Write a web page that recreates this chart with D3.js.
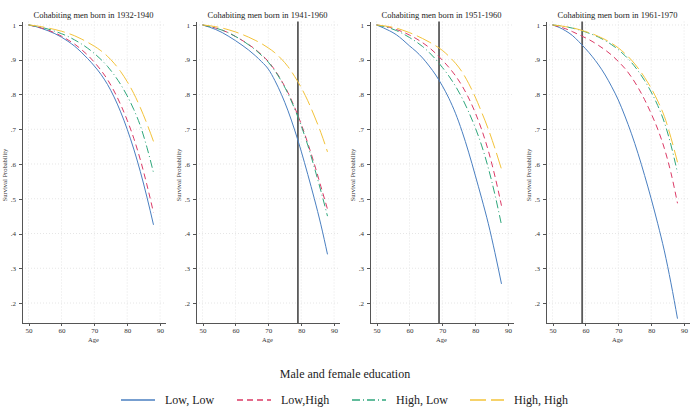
<!DOCTYPE html>
<html>
<head>
<meta charset="utf-8">
<title>Survival probability by education</title>
<script src="https://d3js.org/d3.v7.min.js"></script>
<style>
    body { margin: 0; background: #fff; }
    svg { font-family: "Liberation Serif", "Times New Roman", serif; }
    .axis path, .axis line { stroke: #555; shape-rendering: crispEdges; }
    .axis text { font-size: 7px; fill: #333; font-family: "Liberation Serif", serif; }
</style>
</head>
<body>
<script>

// ages at which the curves were read (every 2 years)
var ages = [50, 52, 54, 56, 58, 60, 62, 64, 66, 68, 70, 72, 74, 76, 78, 80, 82, 84, 86, 88];

var panelTitles = ["Cohabiting men born in 1932-1940", "Cohabiting men born in 1941-1960",
                   "Cohabiting men born in 1951-1960", "Cohabiting men born in 1961-1970"];
var refAges = [null, 79, 69, 59];   // vertical marker per panel

var seriesNames = ["Low, Low", "Low,High", "High, Low", "High, High"];

// panel 1: 1932-1940
var p1LowLow   = [1, .996, .99, .983, .975, .965, .953, .939, .922, .903, .882, .858, .829, .793, .75, .70, .643, .578, .505, .425];
var p1LowHigh  = [1, .996, .991, .985, .977, .968, .957, .945, .93, .913, .893, .87, .843, .81, .771, .726, .674, .612, .54, .46];
var p1HighLow  = [1, .997, .993, .988, .982, .975, .967, .957, .946, .933, .918, .901, .881, .857, .829, .796, .757, .71, .648, .575];
var p1HighHigh = [1, .998, .995, .991, .987, .982, .976, .969, .96, .95, .939, .926, .91, .89, .866, .837, .803, .762, .716, .665];

// panel 2: 1941-1960
var p2LowLow   = [1, .994, .987, .978, .967, .955, .942, .928, .912, .894, .873, .84, .80, .753, .698, .637, .57, .50, .425, .34];
var p2LowHigh  = [1, .996, .991, .985, .977, .967, .956, .944, .93, .914, .895, .87, .84, .805, .763, .715, .66, .60, .535, .47];
var p2HighLow  = [1, .996, .991, .985, .977, .967, .956, .943, .929, .912, .893, .868, .838, .802, .759, .71, .654, .59, .522, .45];
var p2HighHigh = [1, .998, .995, .991, .986, .98, .973, .965, .956, .946, .934, .92, .902, .88, .852, .82, .782, .738, .69, .635];

// panel 3: 1951-1960
var p3LowLow   = [1, .992, .983, .972, .957, .94, .924, .905, .882, .856, .825, .789, .746, .694, .634, .568, .50, .428, .345, .255];
var p3LowHigh  = [1, .997, .993, .987, .98, .971, .961, .949, .935, .918, .899, .878, .854, .825, .79, .748, .698, .638, .565, .48];
var p3HighLow  = [1, .996, .991, .984, .975, .964, .952, .938, .921, .901, .878, .853, .824, .79, .75, .705, .652, .588, .512, .425];
var p3HighHigh = [1, .998, .995, .991, .985, .978, .97, .961, .951, .94, .927, .91, .89, .865, .832, .793, .748, .70, .645, .585];

// panel 4: 1961-1970
var p4LowLow   = [1, .993, .983, .97, .952, .932, .91, .885, .856, .822, .784, .738, .687, .63, .567, .50, .428, .35, .258, .155];
var p4LowHigh  = [1, .995, .989, .981, .972, .963, .953, .941, .928, .913, .895, .875, .85, .82, .785, .745, .70, .645, .575, .487];
var p4HighLow  = [1, .998, .995, .991, .986, .98, .973, .965, .955, .943, .929, .912, .892, .868, .84, .807, .768, .72, .655, .575];
var p4HighHigh = [1, .998, .995, .992, .987, .981, .975, .967, .958, .947, .934, .918, .899, .876, .849, .818, .781, .737, .676, .605];

var panelData = [
    [p1LowLow, p1LowHigh, p1HighLow, p1HighHigh],
    [p2LowLow, p2LowHigh, p2HighLow, p2HighHigh],
    [p3LowLow, p3LowHigh, p3HighLow, p3HighHigh],
    [p4LowLow, p4LowHigh, p4HighLow, p4HighHigh]
];

var yTicks = [.2, .3, .4, .5, .6, .7, .8, .9, 1];
var xTicks = [50, 60, 70, 80, 90];

var colors = ["#4a7fc1", "#dc3a66", "#2fa77c", "#f3c33a"];
var dashes = [null, "6,4", "8,3,1,3", "16,5"];

var width = 691, height = 411;
var panelLeft = [22, 196, 370, 546];
var plotW = 143;
var plotTop = 21.5, plotBottom = 323;

var svg = d3.select("body").append("svg")
    .attr("width", width)
    .attr("height", height);

var fmt = function (d) { return d === 1 ? "1" : d3.format(".1f")(d).replace(/^0/, ""); };

panelData.forEach(function (series, p) {
    var x = d3.scaleLinear().domain([48, 91.5]).range([0, plotW]);
    var y = d3.scaleLinear().domain([0.1425, 1.01]).range([plotBottom, plotTop]);

    var g = svg.append("g").attr("transform", "translate(" + panelLeft[p] + ",0)");

    // dotted grid
    g.selectAll(".hgrid").data(yTicks).enter().append("line")
        .attr("x1", 0).attr("x2", plotW)
        .attr("y1", function (d) { return y(d); })
        .attr("y2", function (d) { return y(d); })
        .style("stroke", "#e6e6e6").style("stroke-dasharray", "1,2");
    g.selectAll(".vgrid").data(xTicks).enter().append("line")
        .attr("y1", plotTop).attr("y2", plotBottom)
        .attr("x1", function (d) { return x(d); })
        .attr("x2", function (d) { return x(d); })
        .style("stroke", "#e6e6e6").style("stroke-dasharray", "1,2");

    // axes
    g.append("g").attr("class", "axis")
        .attr("transform", "translate(0," + plotBottom + ")")
        .call(d3.axisBottom(x).tickValues(xTicks).tickSize(3).tickPadding(2).tickSizeOuter(0));
    g.append("g").attr("class", "axis")
        .call(d3.axisLeft(y).tickValues(yTicks).tickFormat(fmt).tickSize(3).tickPadding(3).tickSizeOuter(0));

    // reference line
    if (refAges[p] !== null) {
        g.append("line")
            .attr("x1", x(refAges[p])).attr("x2", x(refAges[p]))
            .attr("y1", plotTop).attr("y2", plotBottom)
            .style("stroke", "#5a5a5a").style("stroke-width", 1.8);
    }

    var line = d3.line()
        .x(function (d, i) { return x(ages[i]); })
        .y(function (d) { return y(d); })
        .curve(d3.curveMonotoneX);

    series.forEach(function (vals, s) {
        g.append("path")
            .attr("d", line(vals))
            .style("fill", "none")
            .style("stroke", colors[s])
            .style("stroke-width", 1)
            .style("stroke-dasharray", dashes[s]);
    });

    // titles
    g.append("text")
        .attr("x", plotW / 2).attr("y", 18)
        .attr("text-anchor", "middle")
        .style("font-size", "8.5px").style("fill", "#222")
        .text(panelTitles[p]);
    g.append("text")
        .attr("x", plotW / 2).attr("y", 342)
        .attr("text-anchor", "middle")
        .style("font-size", "6.5px").style("fill", "#333")
        .text("Age");
    g.append("text")
        .attr("transform", "translate(-15," + 175 + ")rotate(-90)")
        .attr("text-anchor", "middle")
        .style("font-size", "6.5px").style("fill", "#333")
        .text("Survival Probability");
});

// legend
svg.append("text")
    .attr("x", 345).attr("y", 378)
    .attr("text-anchor", "middle")
    .style("font-size", "12px").style("fill", "#222")
    .text("Male and female education");

var legendX = [121, 237, 352, 470];
seriesNames.forEach(function (name, s) {
    svg.append("line")
        .attr("x1", legendX[s]).attr("x2", legendX[s] + 34)
        .attr("y1", 400).attr("y2", 400)
        .style("stroke", colors[s])
        .style("stroke-width", 1.5)
        .style("stroke-dasharray", dashes[s]);
    svg.append("text")
        .attr("x", legendX[s] + 44).attr("y", 404)
        .style("font-size", "12px").style("fill", "#222")
        .text(name);
});

</script>
</body>
</html>
